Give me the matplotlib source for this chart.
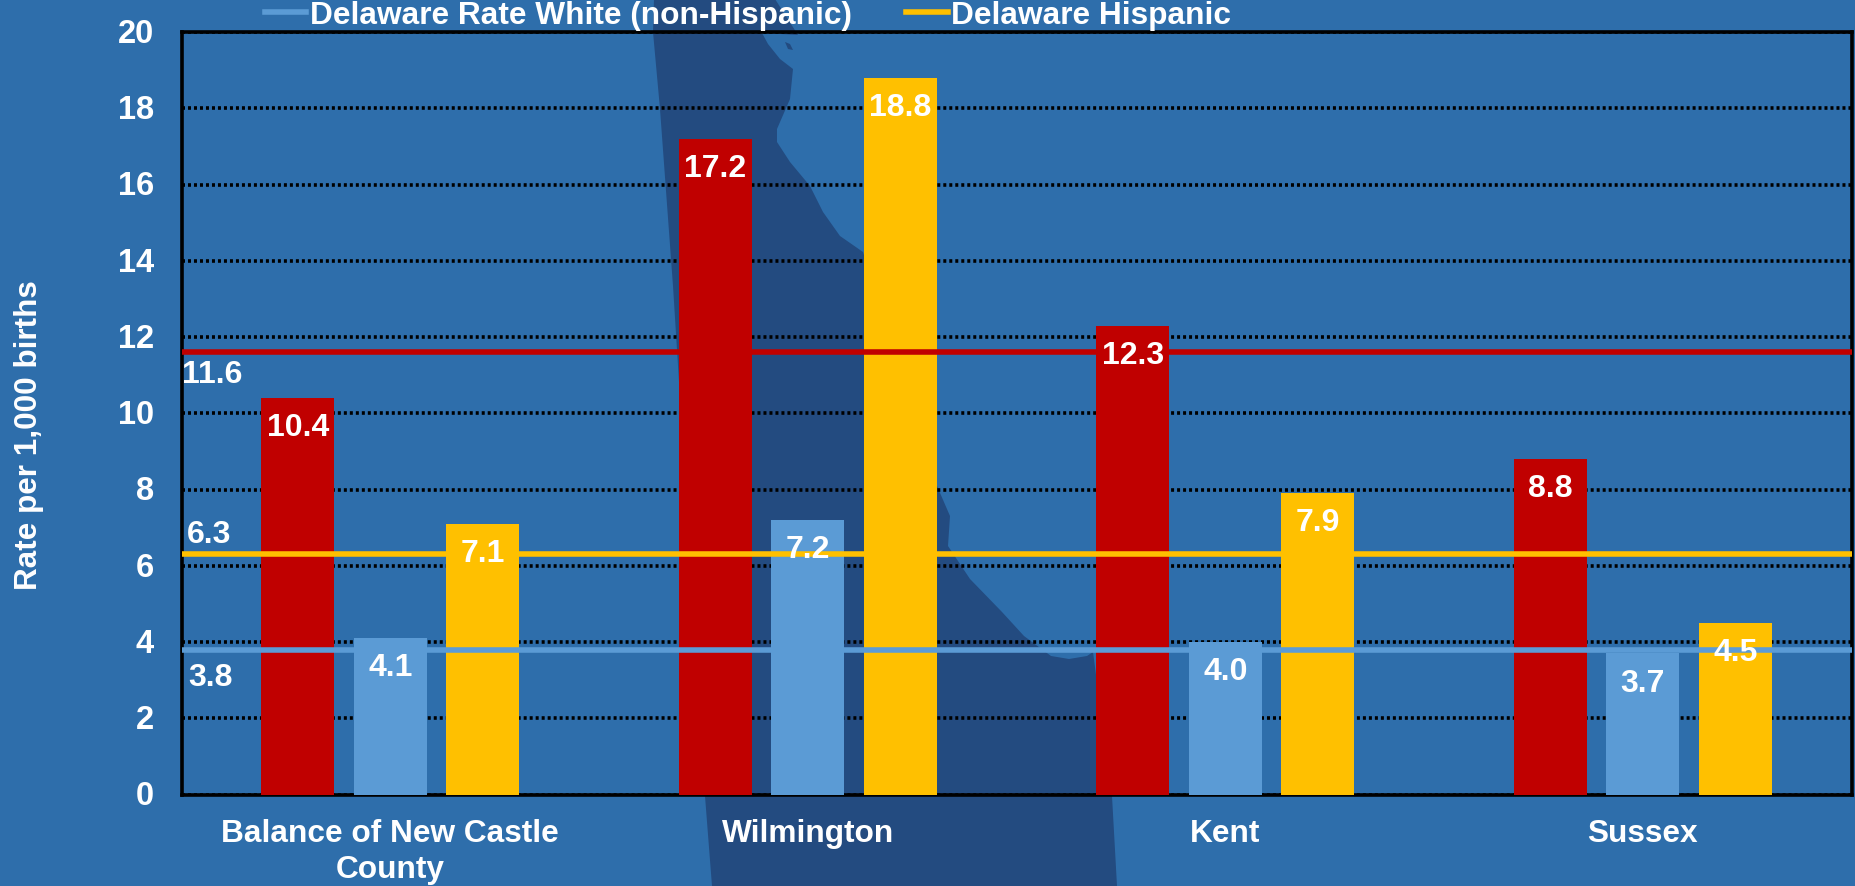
import numpy as np
import matplotlib
matplotlib.use('Agg')
from matplotlib import pyplot as plt
from matplotlib.patches import Polygon
from matplotlib.transforms import ScaledTranslation

plt.rcParams['font.family'] = ['Liberation Sans', 'DejaVu Sans']
plt.rcParams['font.weight'] = 'bold'
plt.rcParams['axes.labelweight'] = 'bold'

categories = ['Balance of New Castle\nCounty', 'Wilmington', 'Kent', 'Sussex']
black_rate = [10.4, 17.2, 12.3, 8.8]
white_rate = [4.1, 7.2, 4.0, 3.7]
hispanic_rate = [7.1, 18.8, 7.9, 4.5]
de_black = 11.6
de_white = 3.8
de_hispanic = 6.3
yticks = list(range(0, 21, 2))

# background map outline, in picture pixels
map_outline = [(654, 0), (775, 0), (798, 36), (762, 34), (768, 45), (780, 60), (793, 70),
               (790, 100), (777, 130), (777, 143), (790, 163), (810, 187), (823, 213),
               (840, 237), (863, 253), (937, 487), (950, 517), (948, 547), (970, 580),
               (1002, 613), (1024, 637), (1051, 657), (1069, 660), (1087, 657), (1093, 653),
               (1112, 797), (1117, 887), (712, 887), (705, 797), (673, 287), (660, 110), (653, 33)]
map_island = [(785, 43), (790, 45), (793, 51), (788, 50)]

BG = '#2E6EAB'
DARK = '#234B80'
RED = '#C00000'
BLUE = '#5B9BD5'
YELLOW = '#FFC000'
W, H = 1855, 887

fig = plt.figure(figsize=(W / 100, H / 100), dpi=100, facecolor=BG)

# map sits behind the chart
bg = fig.add_axes([0, 0, 1, 1], zorder=0)
bg.set_xlim(0, W)
bg.set_ylim(H, 0)
bg.axis('off')
bg.add_patch(Polygon(map_outline, closed=True, fc=DARK, ec='none'))
bg.add_patch(Polygon(map_island, closed=True, fc=DARK, ec='none'))

ax = fig.add_axes([181.5 / W, (H - 795.5) / H, 1670 / W, 762.5 / H], zorder=1)
ax.patch.set_alpha(0)

x = np.arange(len(categories))
off = 0.2216
wid = 0.175
series = [(black_rate, RED, -off), (white_rate, BLUE, 0), (hispanic_rate, YELLOW, off)]
for vals, col, dx in series:
    ax.bar(x + dx, vals, wid, color=col, zorder=3)

l_white = ax.axhline(de_white, color=BLUE, lw=4, zorder=4, label='Delaware Rate White (non-Hispanic)')
l_hisp = ax.axhline(de_hispanic, color=YELLOW, lw=4, zorder=4, label='Delaware Hispanic')
ax.axhline(de_black, color=RED, lw=4, zorder=4)

for vals, col, dx in series:
    for xi, v in zip(x, vals):
        ax.annotate('%.1f' % v, (xi + dx, v), xytext=(0, -21), textcoords='offset points',
                    ha='center', va='center', color='white', fontsize=23, zorder=5)

# line labels at the left end of each line
for v, dy, dx_pt in [(de_black, -16, 22), (de_hispanic, 14.5, 19.5), (de_white, -19.5, 21)]:
    ax.annotate('%.1f' % v, (-0.5, v), xytext=(dx_pt, dy), textcoords='offset points',
                ha='center', va='center', color='white', fontsize=23, zorder=5)

ax.set_xlim(-0.5, 3.5)
ax.set_ylim(0, 20)
ax.set_yticks(yticks)
ax.set_xticks(x)
ax.set_xticklabels(categories, linespacing=1.25)
ax.tick_params(axis='y', length=0, pad=20, labelsize=23.5, labelcolor='white')
ax.tick_params(axis='x', length=0, pad=17, labelsize=22.8, labelcolor='white')
up = ScaledTranslation(0, 1.5 / 72, fig.dpi_scale_trans)
for lab in ax.get_yticklabels():
    lab.set_transform(lab.get_transform() + up)
ax.grid(axis='y', color='black', lw=2.6, dashes=(0.83, 0.83), zorder=1)
ax.set_axisbelow(True)
for s in ax.spines.values():
    s.set_linewidth(2.6)
    s.set_color('black')

ax.set_ylabel('Rate per 1,000 births', color='white', fontsize=22.6)
ax.yaxis.set_label_coords(-0.0823, 0.472)

ax.legend(handles=[l_white, l_hisp], ncol=2, frameon=False, loc='lower left',
          bbox_to_anchor=(265 / W, (H - 31) / H), bbox_transform=fig.transFigure,
          borderpad=0, borderaxespad=0, handlelength=1.31, handletextpad=0.1,
          columnspacing=1.73, labelcolor='white', prop={'size': 22.75, 'weight': 'bold'})

fig.savefig('out.png', dpi=100, facecolor=BG)
